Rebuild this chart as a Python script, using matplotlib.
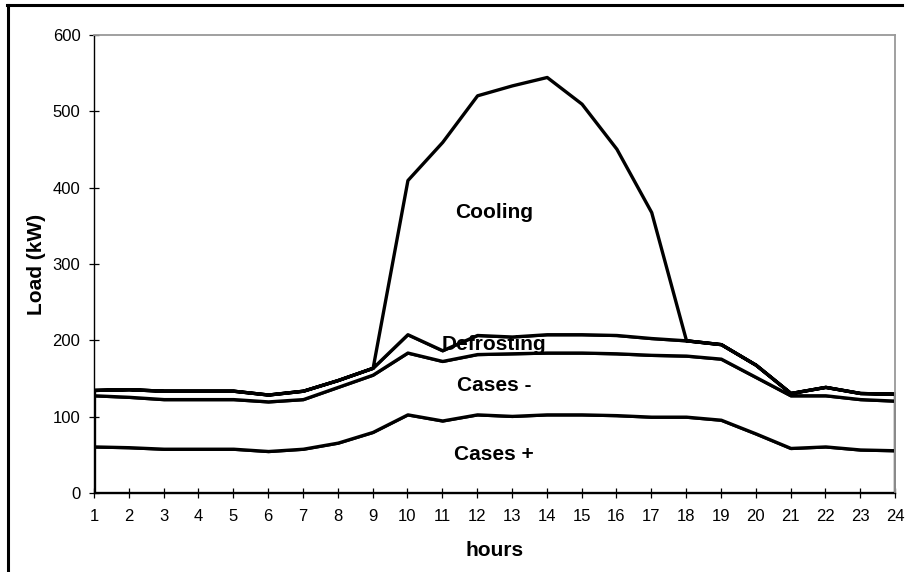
import numpy as np
import matplotlib
matplotlib.use("Agg")
import matplotlib.pyplot as plt
from matplotlib.lines import Line2D

plt.rcParams['font.family'] = ['Liberation Sans', 'DejaVu Sans']

# hourly load components (kW), stacked bottom to top
hours = list(range(1, 25))
cases_plus = [61, 60, 58, 58, 58, 55, 58, 66, 80, 103, 95, 103,
              101, 103, 103, 102, 100, 100, 96, 78, 59, 61, 57, 56]
cases_minus = [67, 66, 65, 65, 65, 65, 65, 73, 75, 81, 78, 79,
               82, 81, 81, 81, 81, 80, 80, 74, 69, 67, 66, 65]
defrosting = [7, 10, 11, 11, 11, 9, 11, 9, 9, 24, 14, 25,
              22, 24, 24, 24, 22, 20, 19, 16, 3, 11, 8, 9]
cooling = [0, 0, 0, 0, 0, 0, 0, 0, 0, 202, 273, 314,
           329, 337, 302, 244, 165, 0, 0, 0, 0, 0, 0, 0]

area_labels = ['Cases +', 'Cases -', 'Defrosting', 'Cooling']
label_pos = [(12.48, 51), (12.48, 141), (12.48, 194), (12.48, 367)]
y_ticks = [0, 100, 200, 300, 400, 500, 600]

fig = plt.figure(figsize=(9.1, 5.72), dpi=100)
ax = fig.add_axes([94 / 910, 79 / 572, 801 / 910, 458 / 572])

ax.stackplot(hours, cases_plus, cases_minus, defrosting, cooling,
             colors=['white'] * 4, edgecolor='black', linewidth=2.4)

for txt, (x, y) in zip(area_labels, label_pos):
    ax.text(x, y, txt, ha='center', va='center', fontsize=15, fontweight='bold')

ax.set_xlim(1, 24)
ax.set_ylim(0, 600)
ax.set_xticks(hours)
ax.set_yticks(y_ticks)
ax.tick_params(direction='inout', length=7.5, width=0.9, labelsize=12, pad=6)
ax.tick_params(axis='x', pad=8)

for side in ['left', 'bottom']:
    ax.spines[side].set_color('black')
    ax.spines[side].set_linewidth(1.0)
for side in ['top', 'right']:
    ax.spines[side].set_color('#999999')
    ax.spines[side].set_linewidth(1.3)

ax.set_xlabel('hours', fontsize=15, fontweight='bold')
ax.set_ylabel('Load (kW)', fontsize=15, fontweight='bold')
ax.xaxis.set_label_coords(0.5, -0.105)
ax.yaxis.set_label_coords(-0.06, 0.5)

# outer frame (only left and top edges visible in the original)
fig.add_artist(Line2D([8 / 910, 8 / 910], [0, 567 / 572], color='black', lw=2.2,
                      transform=fig.transFigure))
fig.add_artist(Line2D([7 / 910, 902 / 910], [567 / 572, 567 / 572], color='black', lw=2.2,
                      transform=fig.transFigure))

fig.savefig('out.png', dpi=100)
